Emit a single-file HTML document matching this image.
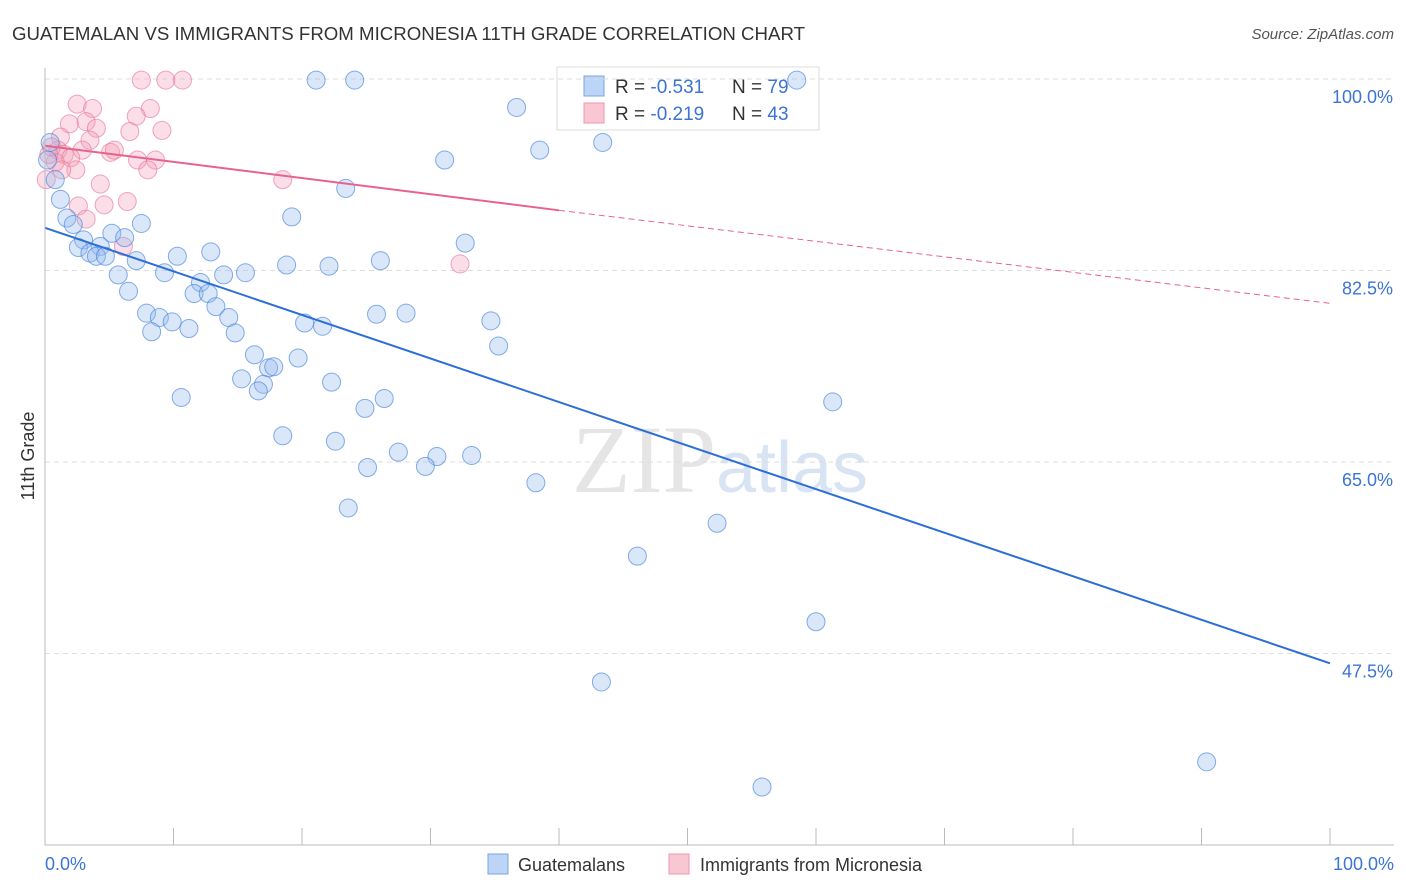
<!DOCTYPE html>
<html><head><meta charset="utf-8"><style>
body{margin:0;background:#fff;font-family:"Liberation Sans",sans-serif}
</style></head><body>
<svg id="c" width="1406" height="892" style="display:block">
<text x="12" y="40" font-size="18" fill="#333" textLength="793" lengthAdjust="spacingAndGlyphs">GUATEMALAN VS IMMIGRANTS FROM MICRONESIA 11TH GRADE CORRELATION CHART</text>
<text x="1394" y="39" font-size="15" fill="#555" text-anchor="end" font-style="italic">Source: ZipAtlas.com</text>
<text x="34" y="456" font-size="18" fill="#333" transform="rotate(-90 34 456)" text-anchor="middle">11th Grade</text>
<text x="720" y="492" font-size="96" fill="#e5e5e5" text-anchor="middle" font-family="Liberation Serif">ZIP<tspan fill="#d8e4f3" font-family="Liberation Sans" font-size="72">atlas</tspan></text>
<g>
<rect x="557" y="67" width="262" height="63" fill="#fff" stroke="#ddd"/>
<rect x="584" y="76" width="20" height="20" fill="#bcd4f5" stroke="#7aa5e6"/>
<rect x="584" y="103" width="20" height="20" fill="#f9c6d4" stroke="#ee94ae"/>
<text x="615" y="93" font-size="19" fill="#333">R = <tspan fill="#3b74d4">-0.531</tspan></text>
<text x="732" y="93" font-size="19" fill="#333">N = <tspan fill="#3b74d4">79</tspan></text>
<text x="615" y="120" font-size="19" fill="#333">R = <tspan fill="#3b74d4">-0.219</tspan></text>
<text x="732" y="120" font-size="19" fill="#333">N = <tspan fill="#3b74d4">43</tspan></text>
</g>
<g id="grid"></g><g id="pts"></g><g id="lines"></g>
<line x1="45" y1="68" x2="45" y2="845" stroke="#bbb"/>
<line x1="45" y1="845" x2="1394" y2="845" stroke="#bbb"/>
<text x="45" y="870" font-size="18" fill="#3b74d4">0.0%</text>
<text x="1394" y="870" font-size="18" fill="#3b74d4" text-anchor="end">100.0%</text>
<g>
<rect x="488" y="854" width="20" height="20" fill="#bcd4f5" stroke="#7aa5e6"/>
<text x="518" y="871" font-size="18" fill="#333">Guatemalans</text>
<rect x="669" y="854" width="20" height="20" fill="#f9c6d4" stroke="#ee94ae"/>
<text x="700" y="871" font-size="18" fill="#333">Immigrants from Micronesia</text>
</g>
</svg>
<script>
const yTicks=[100,82.5,65,47.5];
const yTickLabels=["100.0%","82.5%","65.0%","47.5%"];
const xTicks=[0,10,20,30,40,50,60,70,80,90,100];
const bluePx=[[316,80],[355,80],[797,80],[516,107],[540,150],[603,143],[445,160],[346,188],[50,143],[48,160],[55,180],[60,199],[67,218],[73,225],[292,217],[141,223],[112,233],[125,238],[84,240],[78,247],[100,246],[90,253],[96,256],[106,256],[177,256],[211,252],[465,243],[136,261],[287,265],[329,266],[380,261],[118,275],[165,273],[224,275],[245,273],[200,282],[129,291],[194,294],[208,293],[216,307],[146,313],[159,318],[172,322],[152,332],[189,329],[229,318],[235,333],[305,323],[323,326],[376,314],[406,313],[491,321],[498,346],[254,355],[298,358],[269,368],[274,367],[241,379],[264,384],[258,391],[332,382],[181,397],[384,398],[365,408],[833,402],[283,436],[336,441],[399,452],[437,456],[472,455],[368,467],[425,466],[536,483],[348,508],[717,523],[638,556],[816,622],[601,682],[1207,762],[762,787]];
const pinkPx=[[141,80],[166,80],[183,80],[77,104],[93,108],[150,109],[136,116],[69,124],[86,122],[97,128],[130,131],[162,130],[90,140],[60,137],[58,150],[82,150],[110,152],[115,150],[138,160],[155,160],[64,155],[71,158],[55,162],[49,155],[52,147],[76,170],[62,170],[148,170],[283,180],[100,184],[127,202],[79,206],[104,205],[86,219],[460,264],[123,246],[46,180]];
const blueX=bluePx.map(p=>+((p[0]-45)/12.85).toFixed(1));
const blueY=bluePx.map(p=>+(100-(p[1]-79)/10.943).toFixed(1));
const pinkX=pinkPx.map(p=>+((p[0]-45)/12.85).toFixed(1));
const pinkY=pinkPx.map(p=>+(100-(p[1]-79)/10.943).toFixed(1));
const blueFit=[86.4,46.6];
const pinkFit=[93.9,88.0,79.5];
const X=v=>45+v*12.85, Y=v=>79+(100-v)*10.943;
const NS="http://www.w3.org/2000/svg";
function mk(t,a,p){const e=document.createElementNS(NS,t);for(const k in a)e.setAttribute(k,a[k]);p.appendChild(e);return e;}
const grid=document.getElementById('grid');
yTicks.forEach((v,i)=>{
 const l=mk('line',{x1:45,x2:1394,y1:Y(v),y2:Y(v),stroke:'#ddd','stroke-dasharray':'5,4'},grid);
 
 
 const t=mk('text',{x:1393,y:Y(v)+24,'font-size':18,fill:'#3b74d4','text-anchor':'end'},grid);
 t.textContent=yTickLabels[i];
 
 
});
xTicks.forEach(v=>{
 const l=mk('line',{x1:X(v),x2:X(v),y1:828,y2:845,stroke:'#bbb'},grid);
 
 
});
const pts=document.getElementById('pts');
pinkX.forEach((x,i)=>{
 const c=mk('circle',{cx:X(x),cy:Y(pinkY[i]),r:9,fill:'rgba(244,160,185,0.35)',stroke:'rgba(232,120,155,0.65)'},pts);
 
 
});
blueX.forEach((x,i)=>{
 const c=mk('circle',{cx:X(x),cy:Y(blueY[i]),r:9,fill:'rgba(150,187,238,0.35)',stroke:'rgba(70,130,220,0.65)'},pts);
 
 
});
const ln=document.getElementById('lines');
let b=mk('line',{x1:X(0),y1:Y(blueFit[0]),x2:X(100),y2:Y(blueFit[1]),stroke:'#2b6fd6','stroke-width':2},ln);


let p=mk('line',{x1:X(0),y1:Y(pinkFit[0]),x2:X(40),y2:Y(pinkFit[1]),stroke:'#e8628e','stroke-width':2},ln);


let pd=mk('line',{x1:X(40),y1:Y(pinkFit[1]),x2:X(100),y2:Y(pinkFit[2]),stroke:'#e8628e','stroke-width':1,'stroke-dasharray':'6,4'},ln);


</script>
</body></html>
